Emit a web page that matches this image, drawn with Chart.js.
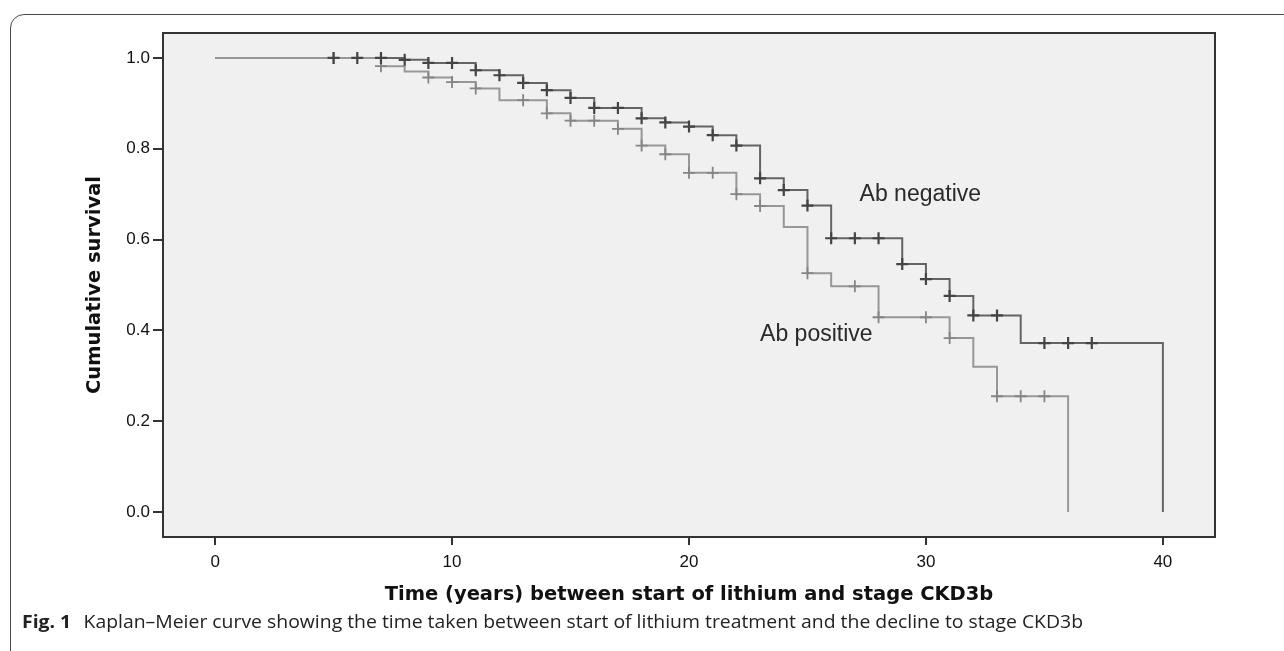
<!DOCTYPE html>
<html lang="en">
<head>
  <meta charset="UTF-8">
  <title>Kaplan–Meier curve</title>
  <script src="https://cdn.jsdelivr.net/npm/chart.js@4"></script>
  <style>
    body {
      margin: 0;
      width: 1284px;
      height: 651px;
      overflow: hidden;
      position: relative;
      background: #fff;
      font-family: "Liberation Sans", Arial, sans-serif;
    }

    #frame {
      position: absolute;
      left: 10px;
      top: 14px;
      width: 1300px;
      height: 660px;
      border: 1.5px solid #4a4a4a;
      border-radius: 14px;
      box-sizing: border-box;
    }

    #chart-box {
      position: absolute;
      left: 0;
      top: 0;
      width: 1284px;
      height: 614px;
    }

    #caption {
      position: absolute;
      left: 22px;
      top: 608px;
      font-family: "Open Sans", sans-serif;
      font-size: 18.5px;
      color: #222;
      white-space: nowrap;
      transform-origin: 0 0;
    }

    #caption b {
      font-weight: 700;
      margin-right: 7px;
    }
  </style>
</head>
<body>
  <div id="frame"></div>
  <div id="chart-box">
    <canvas id="kmChart"></canvas>
  </div>
  <div id="caption"><b>Fig. 1</b> Kaplan–Meier curve showing the time taken between start of lithium treatment and the decline to stage CKD3b</div>
  <script>
    // Ab negative: step times and survival after each step
    const negTimes = [0, 8, 9, 11, 12, 13, 14, 15, 16, 18, 19, 20, 21, 22, 23, 24, 25, 26, 29, 30, 31, 32, 34, 40];
    const negSurv = [1.0, 0.996, 0.989, 0.973, 0.962, 0.945, 0.929, 0.912, 0.89, 0.867, 0.858, 0.849, 0.83, 0.807, 0.735, 0.709, 0.675, 0.603, 0.546, 0.513, 0.476, 0.433, 0.372, 0];
    // Ab negative: censored cases
    const negCensTimes = [5, 6, 7, 8, 9, 10, 11, 12, 13, 14, 15, 16, 17, 18, 19, 20, 21, 22, 23, 24, 25, 26, 27, 28, 29, 30, 31, 32, 33, 35, 36, 37];
    const negCensSurv = [1.0, 1.0, 1.0, 0.996, 0.989, 0.989, 0.973, 0.962, 0.945, 0.929, 0.912, 0.89, 0.89, 0.867, 0.858, 0.849, 0.83, 0.807, 0.735, 0.709, 0.675, 0.603, 0.603, 0.603, 0.546, 0.513, 0.476, 0.433, 0.433, 0.372, 0.372, 0.372];

    // Ab positive
    const posTimes = [0, 7, 8, 9, 10, 11, 12, 14, 15, 17, 18, 19, 20, 22, 23, 24, 25, 26, 28, 31, 32, 33, 36];
    const posSurv = [1.0, 0.982, 0.970, 0.957, 0.947, 0.933, 0.907, 0.878, 0.862, 0.844, 0.807, 0.788, 0.747, 0.700, 0.674, 0.628, 0.526, 0.497, 0.429, 0.383, 0.320, 0.255, 0];
    const posCensTimes = [5, 7, 9, 10, 11, 13, 14, 15, 16, 17, 18, 19, 20, 21, 22, 23, 25, 27, 28, 30, 31, 33, 34, 35];
    const posCensSurv = [1.0, 0.982, 0.957, 0.947, 0.933, 0.907, 0.878, 0.862, 0.862, 0.844, 0.807, 0.788, 0.747, 0.747, 0.700, 0.674, 0.526, 0.497, 0.429, 0.429, 0.383, 0.255, 0.255, 0.255];

    const xTicks = [0, 10, 20, 30, 40];
    const yTicks = [0.0, 0.2, 0.4, 0.6, 0.8, 1.0];

    const groupLabels = ["Ab negative", "Ab positive"];
    const groupLabelX = [27.2, 23.0];
    const groupLabelY = [0.70, 0.39];

    const toPoints = (xs, ys) => xs.map((x, i) => ({ x: x, y: ys[i] }));

    const plotBox = {
      id: "plotBox",
      beforeDraw(chart) {
        const { ctx, chartArea: a } = chart;
        ctx.save();
        ctx.fillStyle = "#f0f0f0";
        ctx.fillRect(a.left, a.top, a.right - a.left, a.bottom - a.top);
        ctx.restore();
      },
      afterDraw(chart) {
        const { ctx, chartArea: a, scales: { x, y } } = chart;
        ctx.save();
        ctx.strokeStyle = "#333";
        ctx.lineWidth = 2;
        ctx.strokeRect(a.left, a.top, a.right - a.left, a.bottom - a.top);
        ctx.font = '23px "Liberation Sans", Arial, sans-serif';
        ctx.fillStyle = "#2a2a2a";
        ctx.textBaseline = "middle";
        groupLabels.forEach((g, i) => {
          ctx.fillText(g, x.getPixelForValue(groupLabelX[i]), y.getPixelForValue(groupLabelY[i]));
        });
        ctx.restore();
      }
    };

    const ctx = document.getElementById("kmChart").getContext("2d");

    new Chart(ctx, {
      type: "line",
      data: {
        datasets: [
          {
            type: "scatter",
            label: "Ab negative-censored",
            data: toPoints(negCensTimes, negCensSurv),
            pointStyle: "cross",
            pointRadius: 6,
            borderColor: "#444",
            borderWidth: 2.2,
            order: 0
          },
          {
            type: "scatter",
            label: "Ab positive-censored",
            data: toPoints(posCensTimes, posCensSurv),
            pointStyle: "cross",
            pointRadius: 6,
            borderColor: "#858585",
            borderWidth: 1.8,
            order: 1
          },
          {
            label: "Ab positive",
            data: toPoints(posTimes, posSurv),
            stepped: true,
            borderColor: "#979797",
            borderWidth: 2,
            pointRadius: 0,
            fill: false,
            order: 2
          },
          {
            label: "Ab negative",
            data: toPoints(negTimes, negSurv),
            stepped: true,
            borderColor: "#646464",
            borderWidth: 2,
            pointRadius: 0,
            fill: false,
            order: 3
          }
        ]
      },
      options: {
        responsive: true,
        maintainAspectRatio: false,
        animation: false,
        layout: {
          padding: { left: 0, top: 33, right: 69, bottom: 0 }
        },
        plugins: {
          legend: { display: false },
          tooltip: { enabled: false }
        },
        scales: {
          x: {
            type: "linear",
            min: -2.2,
            max: 42.2,
            afterBuildTicks: (s) => { s.ticks = xTicks.map(v => ({ value: v })); },
            afterFit: (s) => { s.height = 77; },
            border: { display: false },
            grid: {
              drawOnChartArea: false,
              tickLength: 8,
              color: "#333",
              lineWidth: 2
            },
            ticks: {
              padding: 7,
              color: "#111",
              font: { family: '"Liberation Sans", Arial, sans-serif', size: 17 }
            },
            title: {
              display: true,
              text: "Time (years) between start of lithium and stage CKD3b",
              color: "#111",
              padding: { top: 0, bottom: 7 },
              font: { family: '"DejaVu Sans", sans-serif', size: 19.5, weight: "bold" }
            }
          },
          y: {
            min: -0.055,
            max: 1.055,
            afterBuildTicks: (s) => { s.ticks = yTicks.map(v => ({ value: v })); },
            afterFit: (s) => { s.width = 163; },
            border: { display: false },
            grid: {
              drawOnChartArea: false,
              tickLength: 10,
              color: "#333",
              lineWidth: 2
            },
            ticks: {
              padding: 3,
              color: "#111",
              font: { family: '"Liberation Sans", Arial, sans-serif', size: 17 },
              callback: (v) => Number(v).toFixed(1)
            },
            title: {
              display: true,
              text: "Cumulative survival",
              color: "#111",
              padding: { top: 83, bottom: 0 },
              font: { family: '"DejaVu Sans", sans-serif', size: 19.5, weight: "bold" }
            }
          }
        }
      },
      plugins: [plotBox]
    });

    // stretch the caption to the width it has in the figure
    const cap = document.getElementById("caption");
    cap.style.transform = "scaleX(" + (1061 / cap.getBoundingClientRect().width) + ")";
  </script>
</body>
</html>
